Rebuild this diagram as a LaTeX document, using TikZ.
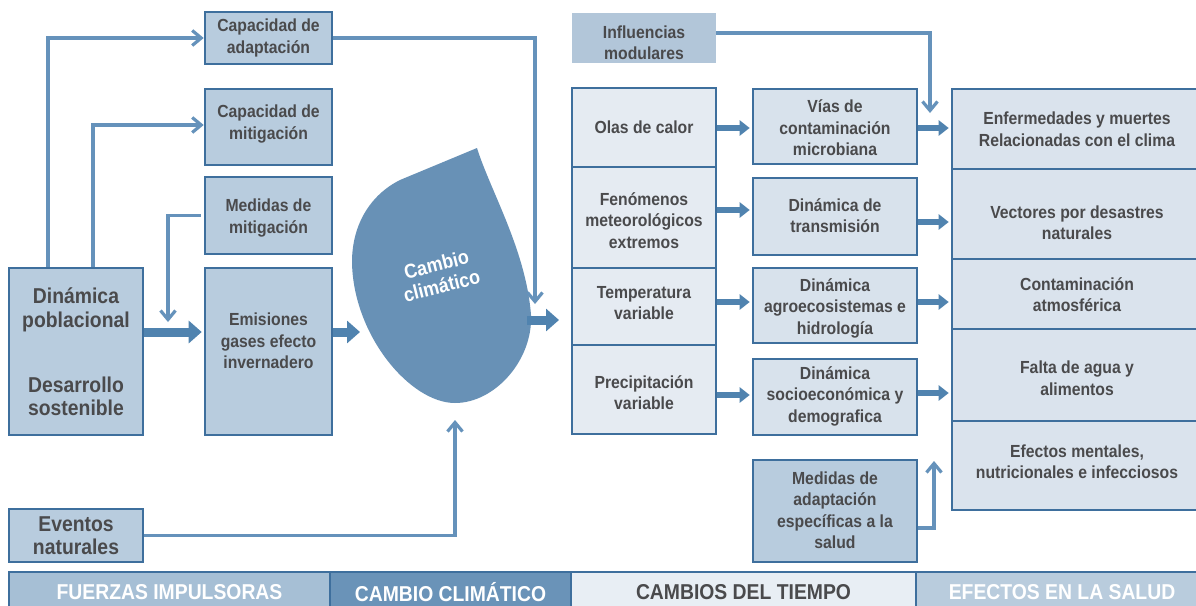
\documentclass[tikz,border=0pt]{standalone}
\usepackage{fontspec}
\setmainfont{Liberation Sans}[FakeStretch=0.9]
\usetikzlibrary{arrows.meta}
\definecolor{bd}{HTML}{3E6F9D}
\definecolor{tx}{HTML}{4A4A4C}
\definecolor{fm}{HTML}{B8CCDE}
\definecolor{fw}{HTML}{E5EBF2}
\definecolor{fmid}{HTML}{D8E2EC}
\definecolor{fr}{HTML}{DAE3ED}
\definecolor{fi}{HTML}{B2C6D9}
\definecolor{ac}{HTML}{6592BB}
\definecolor{ac2}{HTML}{5083AF}
\definecolor{blobc}{HTML}{6891B6}
\definecolor{barA}{HTML}{A6BFD5}
\definecolor{barB}{HTML}{6A93B8}
\definecolor{barC}{HTML}{E8EEF4}
\definecolor{barD}{HTML}{B9CCDD}
\newcommand\mkbox[9][txt]{%
  \pgfmathsetmacro\mkW{#6-#4}\pgfmathsetmacro\mkH{#7-#5}%
  \pgfmathsetmacro\mkX{(#4+#6)/2}\pgfmathsetmacro\mkY{(#5+#7)/2}%
  \node[#3, minimum width=\mkW pt, minimum height=\mkH pt] (#2) at (\mkX,\mkY) {};
  \node[#1] (#2t) at (\mkX,#8) {#9};}
\begin{document}
\begin{tikzpicture}[x=1pt,y=-1pt,
  txt/.style={inner sep=0pt, align=center, text=tx, font=\bfseries\fontsize{17.5}{21.5}\selectfont},
  bigtxt/.style={txt, font=\bfseries\fontsize{21.5}{23.3}\selectfont},
  bx/.style={draw=bd, line width=2.6pt, inner sep=0pt},
  medbox/.style={bx, fill=fm},
  wbox/.style={bx, fill=fw},
  mbox/.style={bx, fill=fmid},
  rbox/.style={bx, fill=fr},
  ibox/.style={fill=fi, inner sep=0pt},
  thinarr/.style={draw=ac, line width=3.2pt, -{Straight Barb[length=9pt,width=15pt]}},
  bigarr/.style={draw=ac2, line width=9pt, -{Triangle[length=13pt,width=22pt]}, shorten >=2pt},
  midarr/.style={draw=ac2, line width=6pt, -{Triangle[length=10pt,width=15pt]}, shorten >=2pt},
  barbox/.style={draw=bd, line width=2pt, inner sep=0pt, minimum height=40pt, font=\bfseries\fontsize{21.5}{24}\selectfont},
  blobtxt/.style={inner sep=0pt, align=center, text=white, font=\bfseries\fontsize{20}{22}\selectfont}
]
\useasboundingbox (0,0) rectangle (1196,605);
\fill[white] (0,0) rectangle (1196,605);

% ---- left column
\mkbox{capad}{medbox}{205}{12}{332}{64}{38}{Capacidad de\\adaptación}
\mkbox{capmit}{medbox}{205}{89}{332}{165}{124}{Capacidad de\\mitigación}
\mkbox{medmit}{medbox}{205}{177}{332}{254}{218}{Medidas de\\mitigación}
\mkbox{emis}{medbox}{205}{268}{332}{435}{341}{Emisiones\\gases efecto\\invernadero}
\mkbox[bigtxt]{dinam}{medbox}{9}{268}{143}{435}{352}{Dinámica\\poblacional\\[42pt]Desarrollo\\sostenible}
\mkbox[bigtxt]{event}{medbox}{9}{509}{143}{562}{535.5}{Eventos\\naturales}

% ---- blob
\fill[blobc] (477,148) .. controls (490,190) and (526,250) .. (531,315)
  .. controls (533,360) and (495,403) .. (455,403)
  .. controls (410,403) and (353,335) .. (352,262)
  .. controls (352,225) and (370,195) .. (400,180) -- cycle;
\node[blobtxt, rotate=14] (cc) at (439,275) {Cambio\\climático};

% ---- right part
\mkbox{infl}{ibox}{572}{13}{716}{63}{42.5}{Influencias\\modulares}
\mkbox{olas}{wbox}{572}{88}{716}{167}{127}{Olas de calor}
\mkbox{fen}{wbox}{572}{167}{716}{268}{220.5}{Fenómenos\\meteorológicos\\extremos}
\mkbox{temp}{wbox}{572}{268}{716}{345}{303}{Temperatura\\variable}
\mkbox{prec}{wbox}{572}{345}{716}{434}{392.5}{Precipitación\\variable}

\mkbox{vias}{mbox}{753}{89}{917}{164}{128}{Vías de\\contaminación\\microbiana}
\mkbox{trans}{mbox}{753}{178}{917}{255}{215.5}{Dinámica de\\transmisión}
\mkbox{agro}{mbox}{753}{268}{917}{343}{308}{Dinámica\\agroecosistemas e\\hidrología}
\mkbox{socio}{mbox}{753}{359}{917}{435}{396}{Dinámica\\socioeconómica y\\demografica}
\mkbox{medad}{medbox}{753}{460}{917}{562}{510}{Medidas de\\adaptación\\específicas a la\\salud}

\mkbox{enf}{rbox}{952}{89}{1202}{169}{129}{Enfermedades y muertes\\Relacionadas con el clima}
\mkbox{vec}{rbox}{952}{169}{1202}{259}{222.5}{Vectores por desastres\\naturales}
\mkbox{cont}{rbox}{952}{259}{1202}{329}{294.5}{Contaminación\\atmosférica}
\mkbox{falta}{rbox}{952}{329}{1202}{421}{378}{Falta de agua y\\alimentos}
\mkbox{efec}{rbox}{952}{421}{1202}{510}{461.5}{Efectos mentales,\\nutricionales e infecciosos}

% ---- helper coordinates
\coordinate (yA) at (0,332);
\coordinate (bl) at (362,332);
\coordinate (br) at (527,320);
\coordinate (bre) at (561,320);
\coordinate (mm) at (168,322);
\coordinate (ca) at (535,304);
\coordinate (ev) at (455,420);
\coordinate (im) at (930,113);
\coordinate (ma) at (934,461);
\coordinate (h1) at (0,128);
\coordinate (h2) at (0,210);
\coordinate (h3) at (0,302);
\coordinate (h4) at (0,395);
\coordinate (k1) at (0,128);
\coordinate (k2) at (0,222);
\coordinate (k3) at (0,302);
\coordinate (k4) at (0,393);

% ---- thin arrows
\draw[thinarr] ([xshift=-28pt]dinam.north) |- (capad.west);
\draw[thinarr] ([xshift=17pt]dinam.north) |- ([yshift=2pt]capmit.west);
\draw[thinarr] ([xshift=-3pt]medmit.west) -| (mm);
\draw[thinarr] (capad.east) -| (ca);
\draw[thinarr] (event.east) -| (ev);
\draw[thinarr] ([yshift=5pt]infl.east) -| (im);
\draw[thinarr] ([yshift=-17pt]medad.east) -| (ma);

% ---- thick arrows
\draw[bigarr] (dinam.east |- yA) -- (emis.west |- yA);
\draw[bigarr] (emis.east |- yA) -- (bl);
\draw[bigarr] (br) -- (bre);
\draw[midarr] (olas.east |- h1) -- (vias.west |- h1);
\draw[midarr] (fen.east |- h2) -- (trans.west |- h2);
\draw[midarr] (temp.east |- h3) -- (agro.west |- h3);
\draw[midarr] (prec.east |- h4) -- (socio.west |- h4);
\draw[midarr] (vias.east |- k1) -- (enf.west |- k1);
\draw[midarr] (trans.east |- k2) -- (vec.west |- k2);
\draw[midarr] (agro.east |- k3) -- (cont.west |- k3);
\draw[midarr] (socio.east |- k4) -- (falta.west |- k4);

% ---- bottom bar
\node[barbox, fill=barA, text=white, minimum width=321pt] (b1) at (169.5,592) {FUERZAS IMPULSORAS};
\node[barbox, fill=barB, text=white, minimum width=241pt] (b2) at (450.5,592) {CAMBIO CLIMÁTICO};
\node[barbox, fill=barC, text=tx, minimum width=345pt] (b3) at (743.5,592) {CAMBIOS DEL TIEMPO};
\node[barbox, fill=barD, text=white, minimum width=292pt] (b4) at (1062,592) {EFECTOS EN LA SALUD};
\end{tikzpicture}
\end{document}
